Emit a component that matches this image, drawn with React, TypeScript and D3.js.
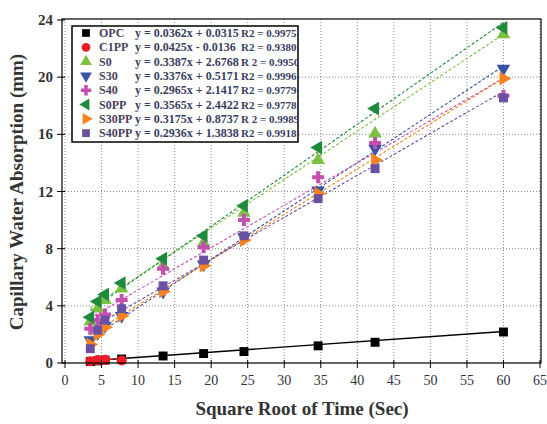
import React from "react";
import * as d3 from "d3";

const xValues = [3.46, 4.47, 5.48, 7.75, 13.42, 18.97, 24.49, 34.64, 42.43, 60];
const seriesNames = ["OPC", "C1PP", "S0", "S30", "S40", "S0PP", "S30PP", "S40PP"];
const opc = [0.1, 0.15, 0.2, 0.28, 0.49, 0.66, 0.8, 1.2, 1.45, 2.17];
const c1pp = [0.12, 0.2, 0.22, 0.18];
const s0 = [2.9, 3.8, 4.4, 5.2, 6.8, 8.4, 10.5, 14.2, 16.05, 23.0];
const s30 = [1.6, 2.1, 2.6, 3.3, 5.0, 6.9, 8.8, 12.07, 15.0, 20.6];
const s40 = [2.4, 3.0, 3.4, 4.4, 6.6, 8.1, 10.0, 13.0, 15.4, 18.7];
const s0pp = [3.2, 4.3, 4.8, 5.6, 7.3, 8.9, 11.0, 15.07, 17.8, 23.45];
const s30pp = [1.3, 2.0, 2.5, 3.3, 5.0, 6.8, 8.6, 11.86, 14.2, 19.9];
const s40pp = [1.0, 2.3, 3.0, 3.8, 5.4, 7.2, 8.9, 11.5, 13.6, 18.55];
const slopes = [0.0362, 0.0425, 0.3387, 0.3376, 0.2965, 0.3565, 0.3175, 0.2936];
const intercepts = [0.0315, -0.0136, 2.6768, 0.5171, 2.1417, 2.4422, 0.8737, 1.3838];
const equations = [
  "y = 0.0362x + 0.0315",
  "y = 0.0425x - 0.0136",
  "y = 0.3387x + 2.6768",
  "y = 0.3376x + 0.5171",
  "y = 0.2965x + 2.1417",
  "y = 0.3565x + 2.4422",
  "y = 0.3175x + 0.8737",
  "y = 0.2936x + 1.3838",
];
const r2Labels = ["R2 = 0.9975", "R2 = 0.9380", "R 2 = 0.9950", "R2 = 0.9996", "R2 = 0.9779", "R2 = 0.9778", "R 2 = 0.9989", "R2 = 0.9918"];
const xTicks = [0, 5, 10, 15, 20, 25, 30, 35, 40, 45, 50, 55, 60, 65];
const yTicks = [0, 4, 8, 12, 16, 20, 24];

const colors = ["#000000", "#ee1c25", "#7cc242", "#3953a4", "#c34fb0", "#1e8b3c", "#f7821f", "#6950a1"];
const symbols = [d3.symbolSquare, d3.symbolCircle, d3.symbolTriangle, d3.symbolTriangle, d3.symbolCross, d3.symbolTriangle, d3.symbolTriangle, d3.symbolSquare];
const rotations = [0, 0, 0, 180, 0, -90, 90, 0];

const allData = [opc, c1pp, s0, s30, s40, s0pp, s30pp, s40pp];

export default function App() {
  const x = d3.scaleLinear().domain([0, 65]).range([65, 540]);
  const y = d3.scaleLinear().domain([0, 24]).range([363, 20]);
  const font = "Liberation Serif, Times New Roman, Times, serif";
  const left = 62, right = 541, top = 19, bottom = 363;

  const symPath = (i: number, s: number) => d3.symbol().type(symbols[i]).size(s)() as string;

  return (
    <svg width={547} height={424} style={{ position: "absolute", left: 0, top: 0, background: "#fff", fontFamily: font }}>
      {xTicks.map((t) => (
        <line key={"gx" + t} x1={x(t)} x2={x(t)} y1={top} y2={bottom} stroke="#8a8a8a" strokeWidth={1} strokeDasharray="1,2" />
      ))}
      {yTicks.slice(1, -1).map((t) => (
        <line key={"gy" + t} x1={left} x2={right} y1={y(t)} y2={y(t)} stroke="#8a8a8a" strokeWidth={1} strokeDasharray="1,2" />
      ))}
      {allData.map((d, i) => {
        const xs = xValues.slice(0, d.length);
        const x0 = xs[0], x1 = xs[xs.length - 1];
        const line = d3.line<number>().x((v) => x(v)).y((v) => y(slopes[i] * v + intercepts[i]));
        return (
          <path key={"t" + i} d={line([x0, x1]) as string} fill="none" stroke={colors[i]}
            strokeWidth={i === 0 ? 1.4 : 1.1} strokeDasharray={i === 0 ? undefined : "3,2"} />
        );
      })}
      {allData.map((d, i) => (
        <g key={"m" + i}>
          {d.map((v, j) => (
            <path key={j} d={symPath(i, 80)} fill={colors[i]}
              transform={`translate(${x(xValues[j])},${y(v)}) rotate(${rotations[i]})`} />
          ))}
        </g>
      ))}
      <rect x={left} y={top} width={right - left} height={bottom - top} fill="none" stroke="#000" strokeWidth={1.2} />
      {yTicks.map((t) => (
        <g key={"yt" + t}>
          <line x1={left - 5} x2={left + 3} y1={y(t)} y2={y(t)} stroke="#000" strokeWidth={1} />
          <text x={53} y={y(t) + 5} textAnchor="end" fontSize={15} fontWeight="bold" fill="#333">{t}</text>
        </g>
      ))}
      {xTicks.map((t) => (
        <g key={"xt" + t}>
          <line x1={x(t)} x2={x(t)} y1={bottom - 3} y2={bottom + 5} stroke="#000" strokeWidth={1} />
          <text x={x(t)} y={385} textAnchor="middle" fontSize={14} fill="#333">{t}</text>
        </g>
      ))}
      <text x={302} y={415} textAnchor="middle" fontSize={19} fontWeight="bold" fill="#333">Square Root of Time (Sec)</text>
      <text transform="translate(23,192) rotate(-90)" textAnchor="middle" fontSize={19} fontWeight="bold" fill="#333">Capillary Water Absorption (mm)</text>
      <rect x={72} y={26} width={226} height={116} fill="#fff" stroke="#000" strokeWidth={1.5} />
      <clipPath id="lgclip"><rect x={72} y={26} width={226} height={116} /></clipPath>
      <g clipPath="url(#lgclip)">
        {seriesNames.map((n, i) => {
          const cy = 33 + i * 14.3;
          return (
            <g key={"l" + i}>
              <path d={symPath(i, 60)} fill={colors[i]} transform={`translate(86,${cy}) rotate(${rotations[i]})`} />
              <text x={99} y={cy + 4} fontSize={12} fontWeight="bold" fill="#4a3f5a">{n}</text>
              <text x={135} y={cy + 4} fontSize={12} fontWeight="bold" fill="#3a4060">{equations[i]}</text>
              <text x={241} y={cy + 4} fontSize={11} fontWeight="bold" fill="#3a4060">{r2Labels[i]}</text>
            </g>
          );
        })}
      </g>
    </svg>
  );
}
